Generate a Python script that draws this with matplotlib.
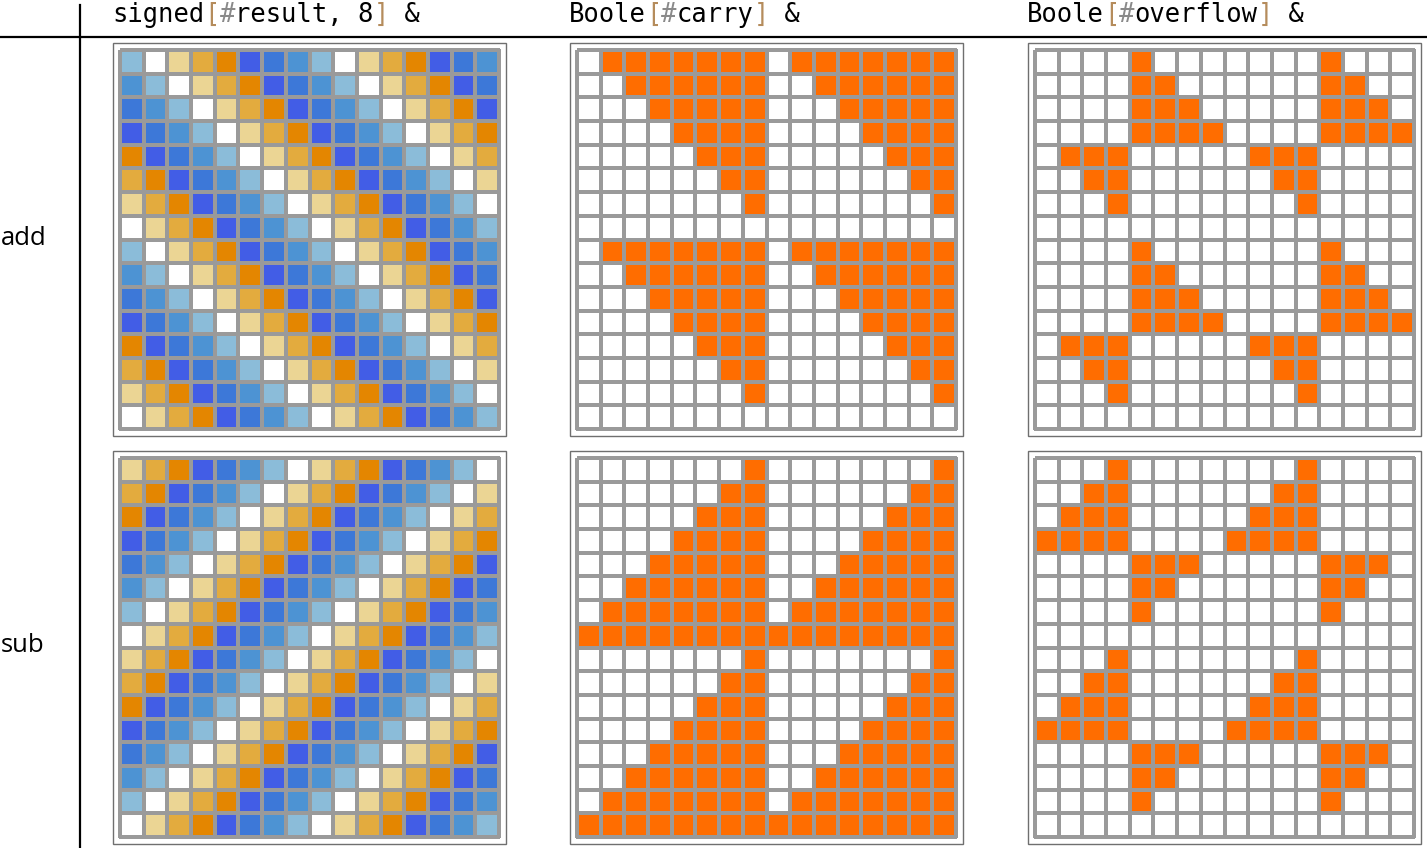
import numpy as np
import matplotlib
matplotlib.use("Agg")
import matplotlib.pyplot as plt
from matplotlib.colors import ListedColormap
from matplotlib.lines import Line2D
from matplotlib.patches import Rectangle

# signed result, one letter per cell
# d=-4 b=-3 m=-2 l=-1 w=0 p=1 t=2 o=3
add_result = [
    "lwptodbmlwptodbm",
    "mlwptodbmlwptodb",
    "bmlwptodbmlwptod",
    "dbmlwptodbmlwpto",
    "odbmlwptodbmlwpt",
    "todbmlwptodbmlwp",
    "ptodbmlwptodbmlw",
    "wptodbmlwptodbml",
    "lwptodbmlwptodbm",
    "mlwptodbmlwptodb",
    "bmlwptodbmlwptod",
    "dbmlwptodbmlwpto",
    "odbmlwptodbmlwpt",
    "todbmlwptodbmlwp",
    "ptodbmlwptodbmlw",
    "wptodbmlwptodbml",
]
sub_result = [
    "ptodbmlwptodbmlw",
    "todbmlwptodbmlwp",
    "odbmlwptodbmlwpt",
    "dbmlwptodbmlwpto",
    "bmlwptodbmlwptod",
    "mlwptodbmlwptodb",
    "lwptodbmlwptodbm",
    "wptodbmlwptodbml",
    "ptodbmlwptodbmlw",
    "todbmlwptodbmlwp",
    "odbmlwptodbmlwpt",
    "dbmlwptodbmlwpto",
    "bmlwptodbmlwptod",
    "mlwptodbmlwptodb",
    "lwptodbmlwptodbm",
    "wptodbmlwptodbml",
]
add_carry = [
    "0111111101111111",
    "0011111100111111",
    "0001111100011111",
    "0000111100001111",
    "0000011100000111",
    "0000001100000011",
    "0000000100000001",
    "0000000000000000",
    "0111111101111111",
    "0011111100111111",
    "0001111100011111",
    "0000111100001111",
    "0000011100000111",
    "0000001100000011",
    "0000000100000001",
    "0000000000000000",
]
add_overflow = [
    "0000100000001000",
    "0000110000001100",
    "0000111000001110",
    "0000111100001111",
    "0111000001110000",
    "0011000000110000",
    "0001000000010000",
    "0000000000000000",
    "0000100000001000",
    "0000110000001100",
    "0000111000001110",
    "0000111100001111",
    "0111000001110000",
    "0011000000110000",
    "0001000000010000",
    "0000000000000000",
]
sub_carry = [
    "0000000100000001",
    "0000001100000011",
    "0000011100000111",
    "0000111100001111",
    "0001111100011111",
    "0011111100111111",
    "0111111101111111",
    "1111111111111111",
    "0000000100000001",
    "0000001100000011",
    "0000011100000111",
    "0000111100001111",
    "0001111100011111",
    "0011111100111111",
    "0111111101111111",
    "1111111111111111",
]
sub_overflow = [
    "0001000000010000",
    "0011000000110000",
    "0111000001110000",
    "1111000011110000",
    "0000111000001110",
    "0000110000001100",
    "0000100000001000",
    "0000000000000000",
    "0001000000010000",
    "0011000000110000",
    "0111000001110000",
    "1111000011110000",
    "0000111000001110",
    "0000110000001100",
    "0000100000001000",
    "0000000000000000",
]

row_labels = ["add", "sub"]
headers = [
    [("signed", "k"), ("[", "#b58c5c"), ("#", "#8a8a8a"), ("result, 8", "k"), ("]", "#b58c5c"), (" &", "k")],
    [("Boole", "k"), ("[", "#b58c5c"), ("#", "#8a8a8a"), ("carry", "k"), ("]", "#b58c5c"), (" &", "k")],
    [("Boole", "k"), ("[", "#b58c5c"), ("#", "#8a8a8a"), ("overflow", "k"), ("]", "#b58c5c"), (" &", "k")],
]

letter_value = {"d": -4, "b": -3, "m": -2, "l": -1, "w": 0, "p": 1, "t": 2, "o": 3}
signed_cmap = ListedColormap(["#425de6", "#3d78d8", "#4d93d3", "#8bbcd9",
                              "#ffffff", "#ebd594", "#e3ab3e", "#e48600"])
bool_cmap = ListedColormap(["#ffffff", "#ff6d00"])

W, H = 1427, 848
fig = plt.figure(figsize=(W / 100, H / 100), dpi=100)


def px_axes(x, y, w, h):
    return fig.add_axes([x / W, 1 - (y + h) / H, w / W, h / H])


def draw_grid(x, y, data, cmap, vmin, vmax):
    # outer frame
    fig.add_artist(Rectangle((x / W, 1 - (y + 393) / H), 393 / W, 393 / H,
                             transform=fig.transFigure, fill=False,
                             edgecolor="#6f6f6f", lw=1.0))
    ax = px_axes(x + 7, y + 7, 379, 379)
    m = ax.pcolormesh(np.array(data), cmap=cmap, vmin=vmin, vmax=vmax,
                      edgecolors="#9a9a9a", linewidth=1.5)
    m.set_clip_on(False)
    ax.set_xlim(0, 16)
    ax.set_ylim(16, 0)
    ax.axis("off")


col_x = [113, 570, 1028]
row_y = [43, 451]

mats = [
    [add_result, add_carry, add_overflow],
    [sub_result, sub_carry, sub_overflow],
]
for r in range(2):
    for c in range(3):
        rows = mats[r][c]
        if c == 0:
            data = [[letter_value[ch] for ch in row] for row in rows]
            draw_grid(col_x[c], row_y[r], data, signed_cmap, -4.5, 3.5)
        else:
            data = [[int(ch) for ch in row] for row in rows]
            draw_grid(col_x[c], row_y[r], data, bool_cmap, -0.5, 1.5)

# header text, monospace so pieces are laid out by character count
fs = 18.4
char_w = 0.602 * fs * 100 / 72
for c, parts in enumerate(headers):
    x = col_x[c] - 1
    for txt, color in parts:
        fig.text(x / W, 1 - 22 / H, txt, color=color, fontsize=fs,
                 family="DejaVu Sans Mono", va="baseline", ha="left")
        x += len(txt) * char_w

for lab, yb in zip(row_labels, [245, 652]):
    fig.text(1 / W, 1 - yb / H, lab, fontsize=18.5, family="Open Sans",
             va="baseline", ha="left", color="k")

fig.add_artist(Line2D([0, 1], [1 - 37 / H] * 2, color="k", lw=1.6,
                      transform=fig.transFigure))
fig.add_artist(Line2D([80 / W] * 2, [1 - 5 / H, 0], color="k", lw=1.6,
                      transform=fig.transFigure))

fig.savefig("out.png", dpi=100)
